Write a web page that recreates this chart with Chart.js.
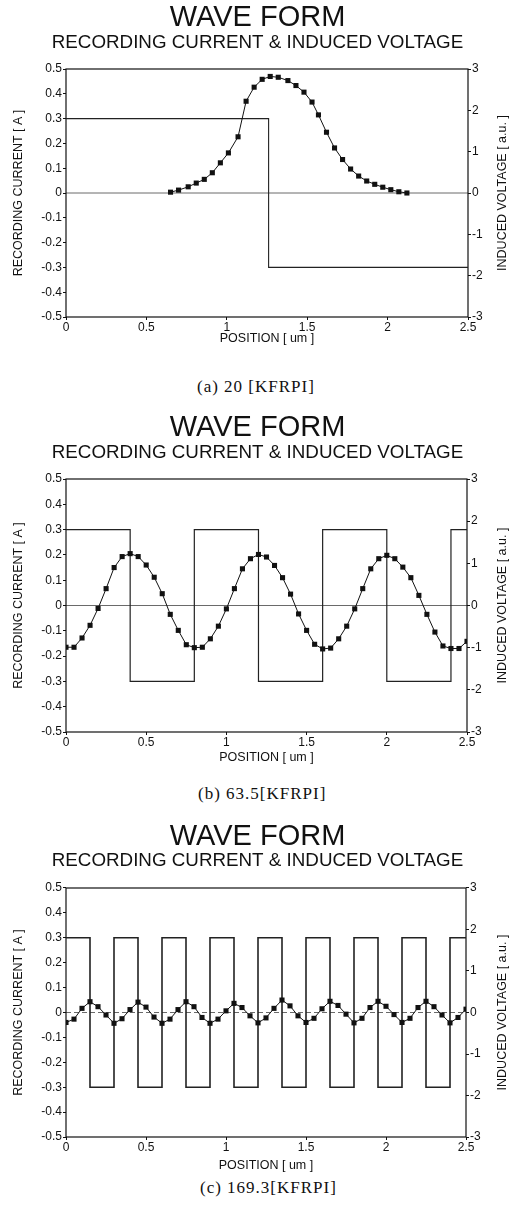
<!DOCTYPE html>
<html>
<head>
<meta charset="utf-8">
<title>Wave form</title>
<script src="https://cdn.jsdelivr.net/npm/chart.js@4.4.1/dist/chart.umd.min.js"></script>
<style>
    html, body { margin: 0; padding: 0; background: #fff; }
    body { width: 515px; height: 1219px; position: relative; overflow: hidden; }
    canvas { position: absolute; left: 0; }
    .caption {
        position: absolute;
        font-family: "Liberation Serif", "DejaVu Serif", serif;
        font-size: 17px;
        line-height: 20px;
        letter-spacing: 1px;
        color: #111;
        white-space: pre;
    }
</style>
</head>
<body>
<canvas id="wave-a"></canvas>
<canvas id="wave-b"></canvas>
<canvas id="wave-c"></canvas>
<div class="caption" id="caption-a">(a) 20 [KFRPI]</div>
<div class="caption" id="caption-b">(b) 63.5[KFRPI]</div>
<div class="caption" id="caption-c">(c) 169.3[KFRPI]</div>
<script>
// tick labels shared by the three plots
const xTicks = [0, 0.5, 1, 1.5, 2, 2.5];
const currentTicks = [-0.5, -0.4, -0.3, -0.2, -0.1, 0, 0.1, 0.2, 0.3, 0.4, 0.5];
const voltageTicks = [-3, -2, -1, 0, 1, 2, 3];

// (a) 20 KFRPI : one transition
const posA = [0.65, 0.70, 0.76, 0.81, 0.86, 0.91, 0.96, 1.01, 1.07, 1.12,
    1.17, 1.22, 1.27, 1.32, 1.38, 1.43, 1.48, 1.53, 1.57, 1.62,
    1.67, 1.72, 1.77, 1.82, 1.87, 1.92, 1.97, 2.02, 2.07, 2.12];
const voltA = [0.02, 0.07, 0.15, 0.24, 0.33, 0.49, 0.73, 0.97, 1.36, 2.22,
    2.56, 2.75, 2.82, 2.80, 2.72, 2.60, 2.44, 2.20, 1.89, 1.47,
    1.09, 0.81, 0.58, 0.41, 0.29, 0.21, 0.14, 0.08, 0.03, 0.00];
const edgesA = [0, 1.26, 2.5];
const levelsA = [0.3, -0.3, -0.3];

// sample positions used in (b) and (c)
const posGrid = [0, 0.05, 0.1, 0.15, 0.2, 0.25, 0.3, 0.35, 0.4, 0.45,
    0.5, 0.55, 0.6, 0.65, 0.7, 0.75, 0.8, 0.85, 0.9, 0.95,
    1, 1.05, 1.1, 1.15, 1.2, 1.25, 1.3, 1.35, 1.4, 1.45,
    1.5, 1.55, 1.6, 1.65, 1.7, 1.75, 1.8, 1.85, 1.9, 1.95,
    2, 2.05, 2.1, 2.15, 2.2, 2.25, 2.3, 2.35, 2.4, 2.45, 2.5];

// (b) 63.5 KFRPI
const voltB = [-0.99, -0.99, -0.77, -0.47, -0.07, 0.40, 0.90, 1.16, 1.23, 1.16,
    0.96, 0.67, 0.28, -0.21, -0.59, -0.93, -1.00, -0.99, -0.79, -0.49,
    -0.08, 0.40, 0.87, 1.11, 1.21, 1.15, 0.95, 0.66, 0.27, -0.20,
    -0.59, -0.92, -1.03, -1.01, -0.79, -0.49, -0.08, 0.40, 0.87, 1.11,
    1.19, 1.11, 0.91, 0.66, 0.24, -0.21, -0.63, -0.96, -1.02, -1.02, -0.85];
const edgesB = [0, 0.4, 0.8, 1.2, 1.6, 2, 2.4, 2.5];
const levelsB = [0.3, -0.3, 0.3, -0.3, 0.3, -0.3, 0.3, 0.3];

// (c) 169.3 KFRPI
const voltC = [-0.24, -0.16, 0.10, 0.26, 0.14, -0.06, -0.26, -0.15, 0.07, 0.25,
    0.13, -0.11, -0.26, -0.16, 0.07, 0.26, 0.14, -0.12, -0.26, -0.16,
    0.04, 0.22, 0.12, -0.08, -0.25, -0.13, 0.10, 0.30, 0.16, -0.08,
    -0.24, -0.14, 0.09, 0.27, 0.17, -0.04, -0.25, -0.14, 0.12, 0.27,
    0.15, -0.05, -0.24, -0.14, 0.12, 0.27, 0.14, -0.06, -0.25, -0.12, 0.08];
const edgesC = [0, 0.15, 0.3, 0.45, 0.6, 0.75, 0.9, 1.05, 1.2, 1.35,
    1.5, 1.65, 1.8, 1.95, 2.1, 2.25, 2.4, 2.5];
const levelsC = [0.3, -0.3, 0.3, -0.3, 0.3, -0.3, 0.3, -0.3, 0.3, -0.3,
    0.3, -0.3, 0.3, -0.3, 0.3, -0.3, 0.3, 0.3];

// page positions of each panel
const layoutA = { top: 0, titleY: 18, subY: 43, plotTop: 69, plotBottom: 317, plotLeft: 66, plotRight: 468, tickY: 327, axisTitleY: 339, captionY: 387, captionX: 197, stepWidth: 1.1 };
const layoutB = { top: 400, titleY: 428, subY: 453, plotTop: 479, plotBottom: 732, plotLeft: 66, plotRight: 467, tickY: 742, axisTitleY: 758, captionY: 794, captionX: 198, stepWidth: 1.2 };
const layoutC = { top: 810, titleY: 837, subY: 861, plotTop: 888, plotBottom: 1137, plotLeft: 66, plotRight: 466, tickY: 1147, axisTitleY: 1166, captionY: 1188, captionX: 200, stepWidth: 1.6 };

const FONT = '"Liberation Sans", Arial, sans-serif';
const INK = '#111';

// box round the plot, zero line, and the right axis title (reads bottom to top)
const framePlugin = {
    id: 'frame',
    beforeDatasetsDraw(chart, args, opts) {
        const { ctx, chartArea: a, scales } = chart;
        const y0 = scales.y.getPixelForValue(0);
        ctx.save();
        ctx.strokeStyle = '#444';
        ctx.lineWidth = 0.8;
        ctx.setLineDash(opts.zeroDash || []);
        ctx.beginPath();
        ctx.moveTo(a.left, y0);
        ctx.lineTo(a.right, y0);
        ctx.stroke();
        ctx.setLineDash([]);
        ctx.strokeStyle = INK;
        ctx.lineWidth = 1.2;
        ctx.strokeRect(a.left, a.top, a.right - a.left, a.bottom - a.top);
        ctx.fillStyle = INK;
        ctx.font = '12.5px ' + FONT;
        ctx.textAlign = 'center';
        ctx.textBaseline = 'middle';
        ctx.translate(opts.rightTitleX, (a.top + a.bottom) / 2);
        ctx.rotate(-Math.PI / 2);
        ctx.fillText('INDUCED VOLTAGE [ a.u. ]', 0, 0);
        ctx.restore();
    }
};

function setTicks(list) {
    return function (scale) {
        scale.ticks = list.map(function (v) { return { value: v }; });
    };
}

function drawWave(id, lay, pos, volt, edges, levels, zeroDash) {
    const canvas = document.getElementById(id);
    const h = Math.round(lay.axisTitleY + 7 - lay.top);
    canvas.width = 515;
    canvas.height = h;
    canvas.style.top = lay.top + 'px';

    const titleLH = 29 * 0.8;
    const subLH = 18.8 * 0.9;
    const titleEnd = lay.titleY + titleLH / 2;
    const subEnd = lay.subY + subLH / 2;
    const tickFont = { family: FONT, size: 12 };

    new Chart(canvas, {
        type: 'line',
        data: {
            datasets: [
                {
                    label: 'Induced voltage',
                    yAxisID: 'yR',
                    data: pos.map(function (x, i) { return { x: x, y: volt[i] }; }),
                    borderColor: INK,
                    borderWidth: 1,
                    pointStyle: 'rect',
                    pointRadius: 3.6,
                    pointBackgroundColor: INK,
                    pointBorderWidth: 0,
                    tension: 0,
                    fill: false
                },
                {
                    label: 'Recording current',
                    yAxisID: 'y',
                    data: edges.map(function (x, i) { return { x: x, y: levels[i] }; }),
                    stepped: true,
                    borderColor: '#222',
                    borderWidth: lay.stepWidth,
                    pointRadius: 0,
                    fill: false
                }
            ]
        },
        options: {
            responsive: false,
            animation: false,
            events: [],
            layout: { padding: 0 },
            plugins: {
                legend: { display: false },
                tooltip: { enabled: false },
                title: {
                    display: true,
                    text: 'WAVE FORM',
                    color: INK,
                    font: { family: FONT, size: 29, weight: 'normal', lineHeight: 0.8 },
                    padding: { top: lay.titleY - lay.top - titleLH / 2, bottom: 0 }
                },
                subtitle: {
                    display: true,
                    text: 'RECORDING CURRENT & INDUCED VOLTAGE',
                    color: INK,
                    font: { family: FONT, size: 18.8, weight: 'normal', lineHeight: 0.9 },
                    padding: { top: Math.max(0, lay.subY - titleEnd - subLH / 2), bottom: lay.plotTop - subEnd }
                },
                frame: { zeroDash: zeroDash, rightTitleX: 503 }
            },
            scales: {
                x: {
                    type: 'linear',
                    min: 0,
                    max: 2.5,
                    afterBuildTicks: setTicks(xTicks),
                    afterFit: function (s) { s.height = h - (lay.plotBottom - lay.top); },
                    ticks: {
                        autoSkip: false, maxRotation: 0, color: INK, font: tickFont,
                        padding: Math.max(0, lay.tickY - 6.5 - lay.plotBottom - 3),
                        callback: function (v) { return String(v); }
                    },
                    grid: { drawOnChartArea: false, tickLength: 3, color: INK },
                    border: { display: false },
                    title: {
                        display: true, text: 'POSITION [ um ]', color: INK,
                        font: { family: FONT, size: 12.5 }, padding: { top: 0, bottom: 0 }
                    }
                },
                y: {
                    position: 'left',
                    min: -0.5,
                    max: 0.5,
                    afterBuildTicks: setTicks(currentTicks),
                    afterFit: function (s) { s.width = lay.plotLeft; },
                    ticks: {
                        autoSkip: false, color: INK, font: tickFont, padding: 1,
                        callback: function (v) { return String(v); }
                    },
                    grid: { drawOnChartArea: false, tickLength: 3, color: INK },
                    border: { display: false },
                    title: {
                        display: true, text: 'RECORDING CURRENT [ A ]', color: INK,
                        font: { family: FONT, size: 12.5 }, padding: { top: 11.5, bottom: 0 }
                    }
                },
                yR: {
                    position: 'right',
                    min: -3,
                    max: 3,
                    afterBuildTicks: setTicks(voltageTicks),
                    afterFit: function (s) { s.width = 515 - lay.plotRight; },
                    ticks: {
                        autoSkip: false, color: INK, font: tickFont, padding: 1,
                        callback: function (v) { return String(v); }
                    },
                    grid: { drawOnChartArea: false, tickLength: 3, color: INK },
                    border: { display: false }
                }
            }
        },
        plugins: [framePlugin]
    });

    const cap = document.getElementById(id.replace('wave', 'caption'));
    cap.style.left = lay.captionX + 'px';
    cap.style.top = (lay.captionY - 10) + 'px';
}

drawWave('wave-a', layoutA, posA, voltA, edgesA, levelsA, []);
drawWave('wave-b', layoutB, posGrid, voltB, edgesB, levelsB, []);
drawWave('wave-c', layoutC, posGrid, voltC, edgesC, levelsC, [5, 3]);
</script>
</body>
</html>
